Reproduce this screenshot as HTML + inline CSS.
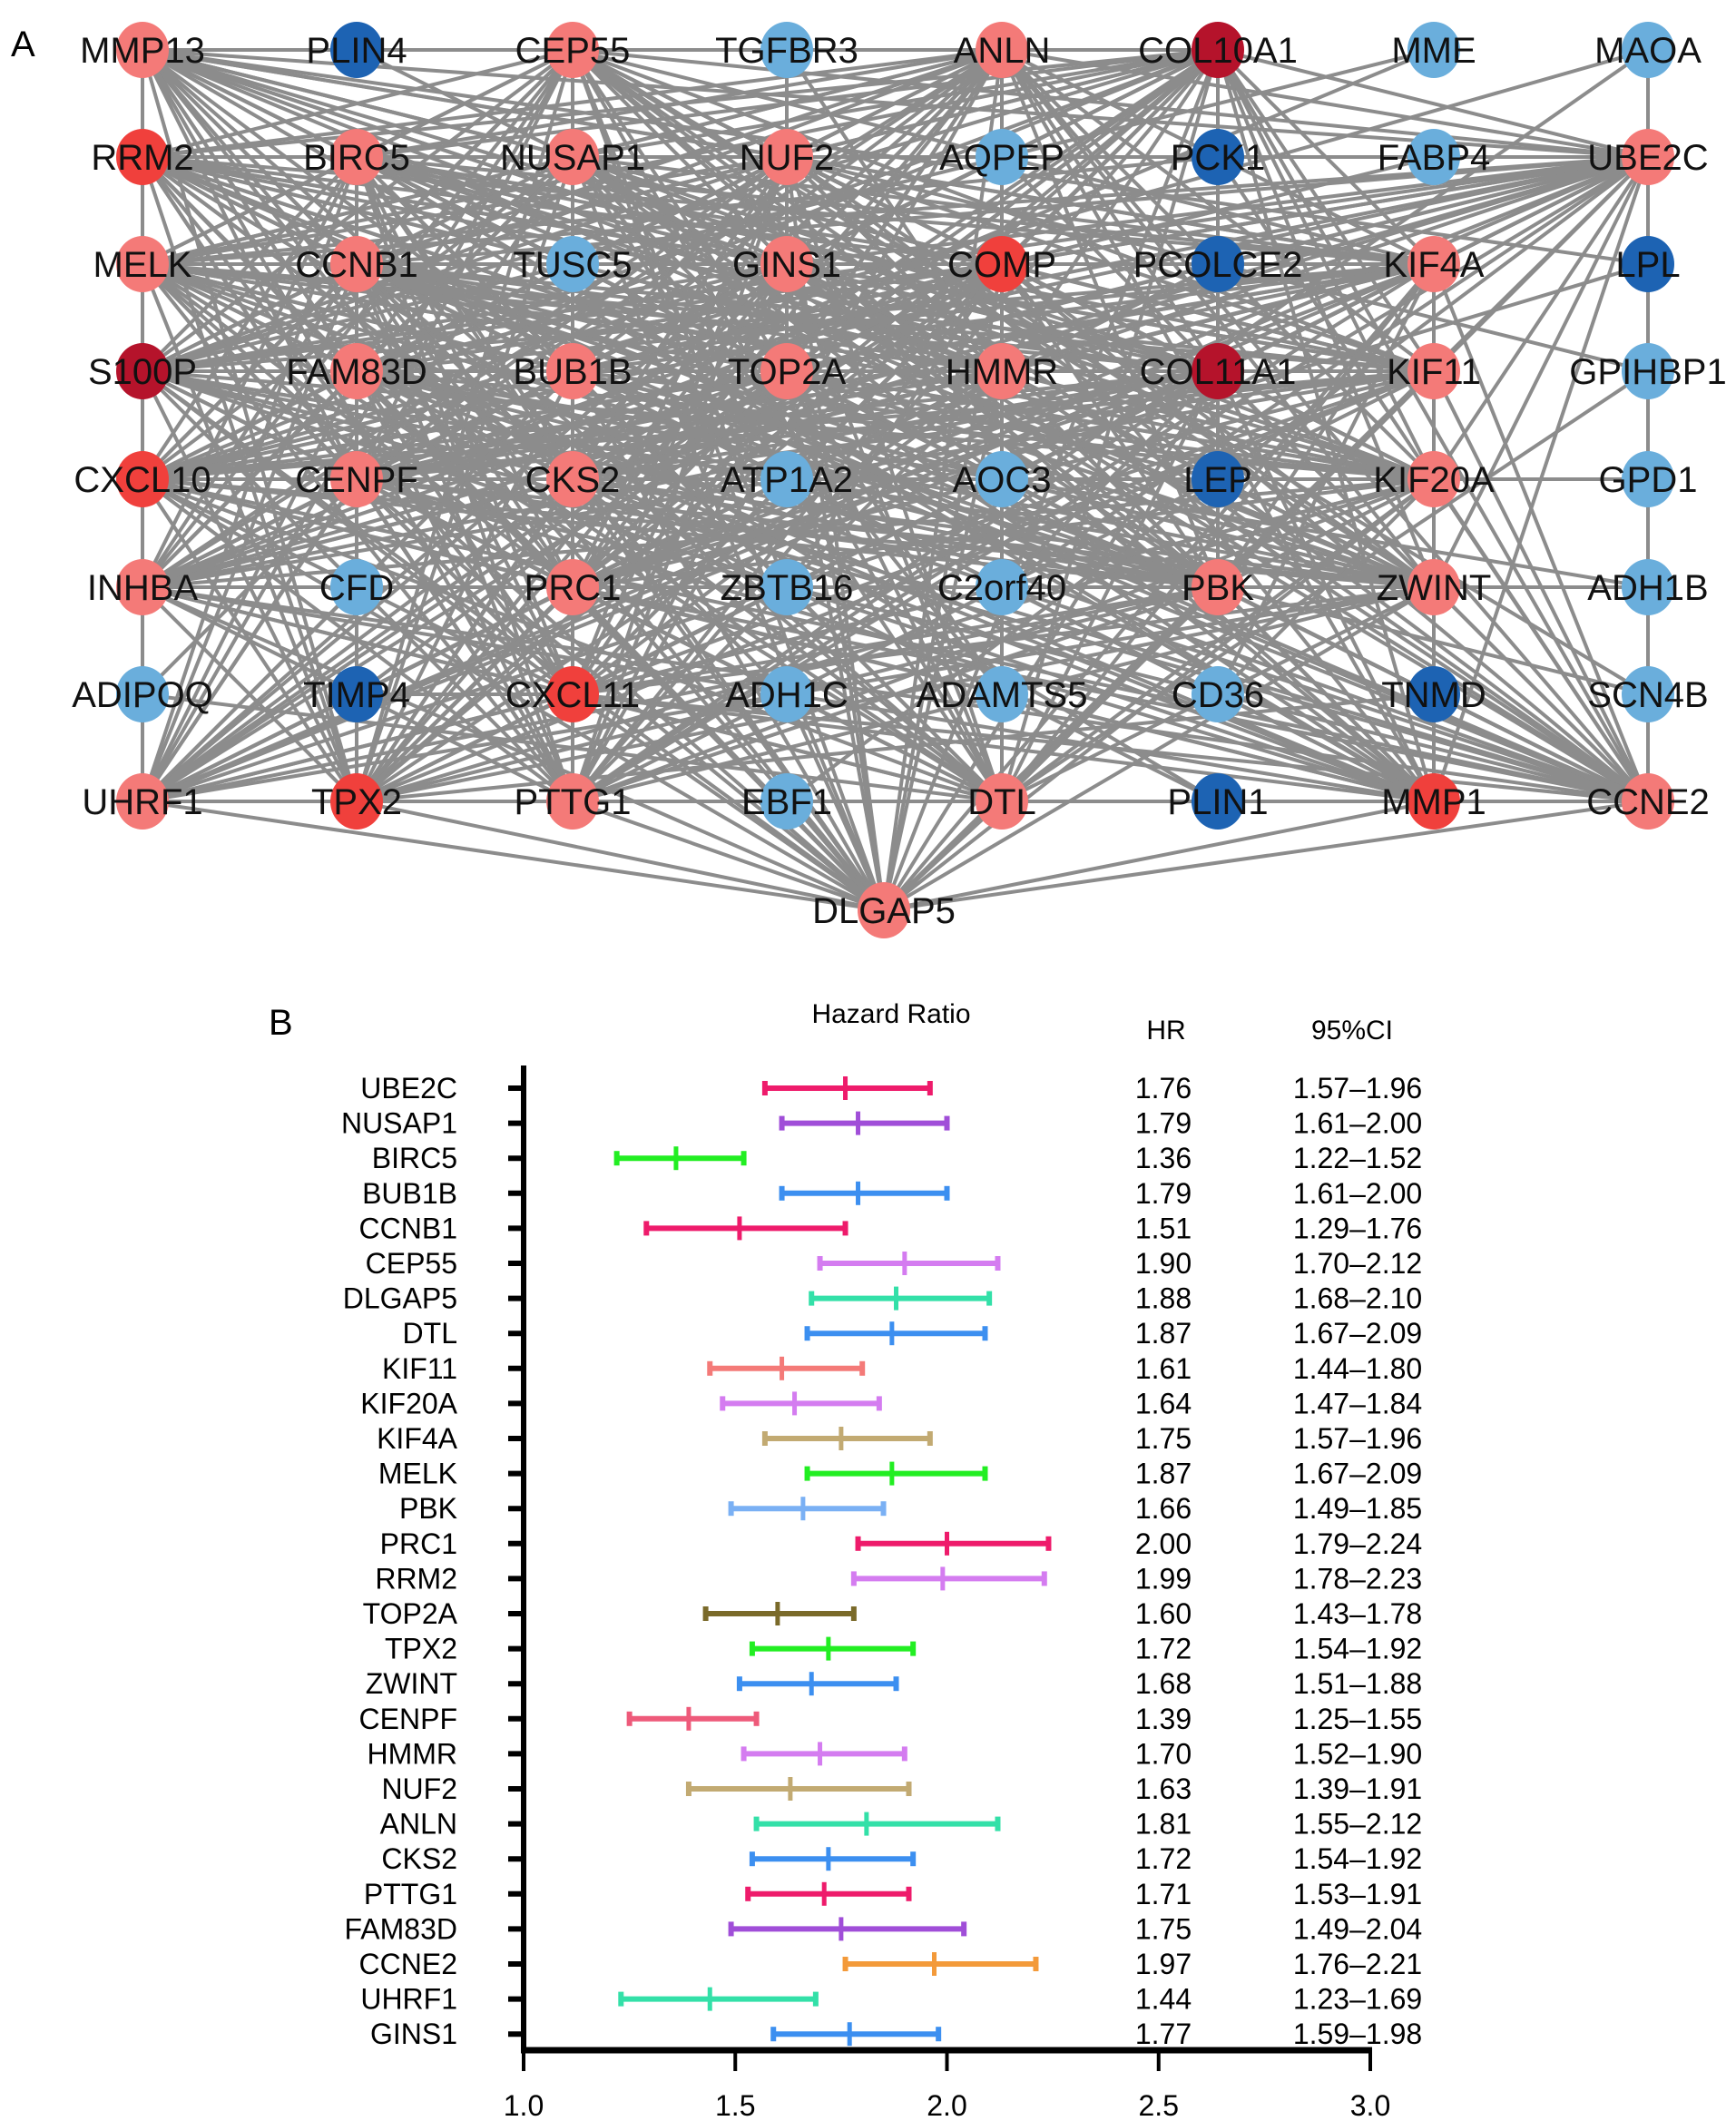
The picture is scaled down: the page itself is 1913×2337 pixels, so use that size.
<!DOCTYPE html>
<html><head><meta charset="utf-8"><style>
html,body{margin:0;padding:0;background:#fff;}
svg{display:block;font-family:"Liberation Sans",Arial,sans-serif;}
</style></head><body>
<svg id="fig" width="1913" height="2337" viewBox="0 0 1913 2337" xmlns="http://www.w3.org/2000/svg">
<text x="12" y="62" font-size="40">A</text>
<text x="296" y="1140" font-size="40">B</text>
<g id="edges"></g>
<g id="nodes"></g>
<g id="forest"></g>
</svg>
<script>
const NS="http://www.w3.org/2000/svg";
function mk(tag,attrs,parent,txt){const e=document.createElementNS(NS,tag);for(const k in attrs)e.setAttribute(k,attrs[k]);if(txt!==undefined)e.textContent=txt;parent.appendChild(e);return e;}
// ---- Network ----
const geneGrid=[
["MMP13","PLIN4","CEP55","TGFBR3","ANLN","COL10A1","MME","MAOA"],
["RRM2","BIRC5","NUSAP1","NUF2","AQPEP","PCK1","FABP4","UBE2C"],
["MELK","CCNB1","TUSC5","GINS1","COMP","PCOLCE2","KIF4A","LPL"],
["S100P","FAM83D","BUB1B","TOP2A","HMMR","COL11A1","KIF11","GPIHBP1"],
["CXCL10","CENPF","CKS2","ATP1A2","AOC3","LEP","KIF20A","GPD1"],
["INHBA","CFD","PRC1","ZBTB16","C2orf40","PBK","ZWINT","ADH1B"],
["ADIPOQ","TIMP4","CXCL11","ADH1C","ADAMTS5","CD36","TNMD","SCN4B"],
["UHRF1","TPX2","PTTG1","EBF1","DTL","PLIN1","MMP1","CCNE2"]];
const geneType=[
"LDLBLXBB","RLLLBDBL","LLBLRDLD","XLLLLXLB","RLLBBDLB","LBLBBLLB","BDRBBBDB","LRLBLDRL"];
const colMap={L:"#f47a78",R:"#f0403c",X:"#b5132b",B:"#6aaedc",D:"#1d63b3"};
const colX=[157,393,631,867,1104,1342,1580,1816];
const rowY=[55,173,291,409,528,647,765,883];
const nodes=[];
geneGrid.forEach((row,r)=>row.forEach((g,c)=>nodes.push({g,x:colX[c],y:rowY[r],t:geneType[r][c]})));
nodes.push({g:"DLGAP5",x:974,y:1003,t:"L"});
const eg=document.getElementById('edges');
const reds=nodes.filter(n=>n.t!=="B"&&n.t!=="D");
const blues=nodes.filter(n=>n.t==="B"||n.t==="D");
for(let i=0;i<reds.length;i++)for(let j=i+1;j<reds.length;j++){
 const a=reds[i],b=reds[j];
 const l=mk('line',{x1:a.x,y1:a.y,x2:b.x,y2:b.y,stroke:"#8c8c8c","stroke-width":4},eg);
 
 
}
blues.forEach((b,i)=>{
 for(let k=0;k<2;k++){const a=reds[(i*7+k*11)%reds.length];
 const l=mk('line',{x1:a.x,y1:a.y,x2:b.x,y2:b.y,stroke:"#8c8c8c","stroke-width":4},eg);
 
 }
});
[0,7].forEach(c=>{const l=mk('line',{x1:colX[c],y1:rowY[0],x2:colX[c],y2:rowY[7],stroke:"#8c8c8c","stroke-width":4},eg);
 
 });
const l0=mk('line',{x1:colX[0],y1:rowY[0],x2:colX[4],y2:rowY[0],stroke:"#8c8c8c","stroke-width":4},eg);


const ng=document.getElementById('nodes');
nodes.forEach(n=>{
 const g=mk('g',{},ng);
 
 
 mk('ellipse',{cx:n.x,cy:n.y,rx:29,ry:31,fill:colMap[n.t]},g);
 mk('text',{x:n.x,y:n.y+14,"font-size":40,"text-anchor":"middle",fill:"#111"},g,n.g);
});
// ---- Forest plot ----
const fGenes=["UBE2C","NUSAP1","BIRC5","BUB1B","CCNB1","CEP55","DLGAP5","DTL","KIF11","KIF20A","KIF4A","MELK","PBK","PRC1","RRM2","TOP2A","TPX2","ZWINT","CENPF","HMMR","NUF2","ANLN","CKS2","PTTG1","FAM83D","CCNE2","UHRF1","GINS1"];
const fHR=[1.76,1.79,1.36,1.79,1.51,1.90,1.88,1.87,1.61,1.64,1.75,1.87,1.66,2.00,1.99,1.60,1.72,1.68,1.39,1.70,1.63,1.81,1.72,1.71,1.75,1.97,1.44,1.77];
const fLo=[1.57,1.61,1.22,1.61,1.29,1.70,1.68,1.67,1.44,1.47,1.57,1.67,1.49,1.79,1.78,1.43,1.54,1.51,1.25,1.52,1.39,1.55,1.54,1.53,1.49,1.76,1.23,1.59];
const fHi=[1.96,2.00,1.52,2.00,1.76,2.12,2.10,2.09,1.80,1.84,1.96,2.09,1.85,2.24,2.23,1.78,1.92,1.88,1.55,1.90,1.91,2.12,1.92,1.91,2.04,2.21,1.69,1.98];
const fCol=["#ee1b6b","#a04ed8","#22ee22","#3c8ff0","#ee1b6b","#d47cf0","#33e0a8","#3c8ff0","#f47a78","#d47cf0","#c2aa72","#22ee22","#7ab0f4","#ee1b6b","#d47cf0","#7a6a2a","#22ee22","#3c8ff0","#ee5a7a","#d47cf0","#c2aa72","#33e0a8","#3c8ff0","#ee1b6b","#a04ed8","#f39a3a","#33e0a8","#3c8ff0"];
const xTicks=[1.0,1.5,2.0,2.5,3.0];
const xS=v=>577+(v-1.0)*(1510-577)/2.0;
const yS=i=>1199+i*38.6;
const fg=document.getElementById('forest');
let t;
t=mk('text',{x:982,y:1127,"font-size":30,"text-anchor":"middle"},fg,"Hazard Ratio");
t=mk('text',{x:1285,y:1145,"font-size":30,"text-anchor":"middle"},fg,"HR");
t=mk('text',{x:1490,y:1145,"font-size":30,"text-anchor":"middle"},fg,"95%CI");
const ya=mk('line',{x1:577,y1:1174,x2:577,y2:2262,stroke:"#000","stroke-width":6},fg);
const xa=mk('line',{x1:574,y1:2259,x2:1512,y2:2259,stroke:"#000","stroke-width":7},fg);
xTicks.forEach(v=>{
 const tk=mk('line',{x1:xS(v),y1:2259,x2:xS(v),y2:2282,stroke:"#000","stroke-width":4},fg);
 
 
 const tl=mk('text',{x:xS(v),y:2331,"font-size":32,"text-anchor":"middle"},fg,v.toFixed(1));
 
 
});
fGenes.forEach((g,i)=>{
 const y=yS(i);
 const tk=mk('line',{x1:560,y1:y,x2:577,y2:y,stroke:"#000","stroke-width":6},fg);
 
 
 const lb=mk('text',{x:504,y:y+11,"font-size":32,"text-anchor":"end"},fg,g);
 
 
 const bar=mk('g',{stroke:fCol[i],"stroke-width":6},fg);
 
 
 mk('line',{x1:xS(fLo[i]),y1:y,x2:xS(fHi[i]),y2:y},bar);
 mk('line',{x1:xS(fLo[i]),y1:y-8,x2:xS(fLo[i]),y2:y+8},bar);
 mk('line',{x1:xS(fHi[i]),y1:y-8,x2:xS(fHi[i]),y2:y+8},bar);
 mk('line',{x1:xS(fHR[i]),y1:y-13,x2:xS(fHR[i]),y2:y+13,"stroke-width":5},bar);
 const hv=mk('text',{x:1282,y:y+11,"font-size":32,"text-anchor":"middle"},fg,fHR[i].toFixed(2));
 
 
 const cv=mk('text',{x:1496,y:y+11,"font-size":32,"text-anchor":"middle"},fg,fLo[i].toFixed(2)+"\u2013"+fHi[i].toFixed(2));
 
 
});
</script>
</body></html>
